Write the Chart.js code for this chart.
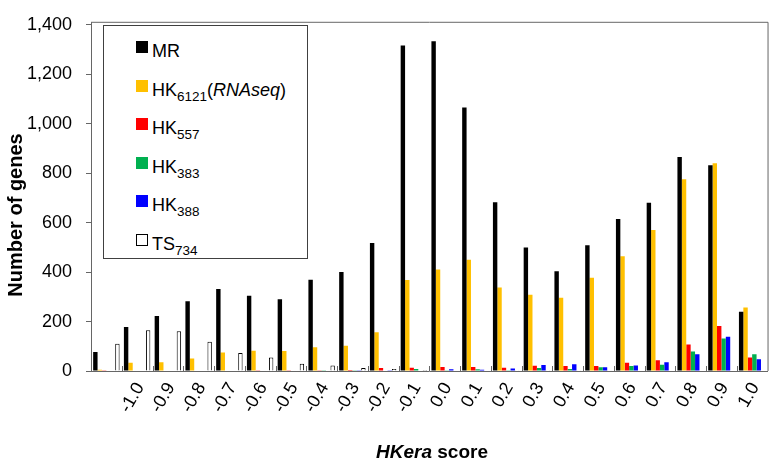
<!DOCTYPE html>
<html>
<head>
<meta charset="utf-8">
<script src="https://cdn.jsdelivr.net/npm/chart.js@4/dist/chart.umd.min.js"></script>
<style>
  body { margin: 0; background: #fff; }
  #wrap { position: relative; width: 779px; height: 464px; font-family: "Liberation Sans", Arial, sans-serif; }
  #legend { position: absolute; left: 103px; top: 25px; width: 203px; height: 232px; border: 1px solid #404040; background: #fff; }
  .item { position: absolute; left: 0; height: 20px; line-height: 20px; font-size: 18px; color: #000; white-space: nowrap; }
  .box { position: absolute; width: 12px; height: 12px; }
  .txt { position: absolute; left: 48px; }
  sub { font-size: 13.5px; vertical-align: -5px; line-height: 0; }
  #xtitle { position: absolute; left: 0; width: 864px; top: 441px; text-align: center; font-size: 19px; font-weight: bold; }
</style>
</head>
<body>
<div id="wrap">
  <canvas id="chart" width="779" height="464"></canvas>
  <div id="legend"></div>
  <div id="xtitle"><i>HKera</i> score</div>
</div>
<script>
// HKera score bins (first bin has no label in the original)
const labels = ['', '-1.0', '-0.9', '-0.8', '-0.7', '-0.6', '-0.5', '-0.4', '-0.3', '-0.2', '-0.1',
    '0.0', '0.1', '0.2', '0.3', '0.4', '0.5', '0.6', '0.7', '0.8', '0.9', '1.0'];

// Number of genes per series
const mr = [77, 178, 222, 282, 332, 304, 290, 369, 400, 518, 1316, 1333, 1066, 682, 499, 403, 509, 615, 680, 865, 832, 240];
const hk6121 = [5, 33, 35, 51, 75, 82, 81, 96, 102, 157, 368, 410, 450, 338, 308, 296, 377, 464, 570, 775, 840, 257];
const hk557 = [1, 2, 2, 2, 2, 1, 1, 3, 4, 12, 13, 16, 16, 13, 21, 20, 20, 33, 43, 107, 182, 55];
const hk383 = [0, 0, 0, 0, 0, 0, 0, 1, 1, 2, 8, 3, 7, 3, 12, 8, 15, 20, 25, 79, 131, 68];
const hk388 = [0, 0, 0, 0, 0, 0, 0, 0, 1, 1, 2, 7, 5, 10, 24, 27, 15, 22, 35, 68, 139, 48];
const ts734 = [110, 165, 161, 118, 73, 55, 29, 22, 12, 8, 4, 2, 2, 1, 1, 1, 1, 0, 0, 0, 0, 0];

const yTicks = [0, 200, 400, 600, 800, 1000, 1200, 1400];
const yTitle = 'Number of genes';

// legend entries: colour, border, html label
const legendItems = [
    ['#000000', 'none', 'MR'],
    ['#FFC000', 'none', 'HK<sub>6121</sub>(<i>RNAseq</i>)'],
    ['#FF0000', 'none', 'HK<sub>557</sub>'],
    ['#00B050', 'none', 'HK<sub>383</sub>'],
    ['#0000FF', 'none', 'HK<sub>388</sub>'],
    ['#FFFFFF', '1px solid #000', 'TS<sub>734</sub>']
];

const legend = document.getElementById('legend');
legendItems.forEach(function (it, i) {
    const top = 14 + i * 38.6;
    const row = document.createElement('div');
    row.className = 'item';
    row.style.top = (top + 1) + 'px';
    row.style.width = '200px';
    const box = document.createElement('div');
    box.className = 'box';
    box.style.left = '32px';
    box.style.top = '0px';
    box.style.background = it[0];
    box.style.border = it[1];
    box.style.boxSizing = 'border-box';
    const txt = document.createElement('span');
    txt.className = 'txt';
    txt.innerHTML = it[2];
    row.appendChild(box);
    row.appendChild(txt);
    legend.appendChild(row);
});

const fam = '"Liberation Sans", Arial, sans-serif';

// frame on top/right, inside tick marks on the category axis, y title
const framePlugin = {
    id: 'frame',
    afterDraw(chart) {
        const c = chart.ctx;
        const a = chart.chartArea;
        const xs = chart.scales.x;
        c.save();
        c.strokeStyle = '#666';
        c.lineWidth = 1;
        c.beginPath();
        c.moveTo(a.left, a.top - 2.5);
        c.lineTo(a.right + 0.5, a.top - 2.5);
        c.lineTo(a.right + 0.5, a.bottom);
        c.stroke();
        c.beginPath();
        c.moveTo(a.left + 0.5, a.top - 2.5);
        c.lineTo(a.left + 0.5, a.top);
        c.stroke();
        const n = labels.length;
        for (let i = 1; i < n; i++) {
            const x = Math.round(xs.left + i * (xs.right - xs.left) / n) + 0.5;
            c.beginPath();
            c.moveTo(x, a.bottom);
            c.lineTo(x, a.bottom - 5);
            c.stroke();
        }
        c.translate(16, 215);
        c.rotate(-Math.PI / 2);
        c.fillStyle = '#000';
        c.font = 'bold 20px ' + fam;
        c.textAlign = 'center';
        c.textBaseline = 'middle';
        c.fillText(yTitle, 0, 0);
        c.restore();
    }
};

function ds(label, data, color, border) {
    return {
        label: label,
        data: data,
        backgroundColor: color,
        borderColor: border || color,
        borderWidth: border ? 1 : 0,
        categoryPercentage: 0.86,
        barPercentage: 1.0
    };
}

new Chart(document.getElementById('chart').getContext('2d'), {
    type: 'bar',
    data: {
        labels: labels,
        datasets: [
            ds('MR', mr, '#000000'),
            ds('HK6121(RNAseq)', hk6121, '#FFC000'),
            ds('HK557', hk557, '#FF0000'),
            ds('HK383', hk383, '#00B050'),
            ds('HK388', hk388, '#0000FF'),
            ds('TS734', ts734, '#FFFFFF', '#000000')
        ]
    },
    options: {
        responsive: false,
        animation: false,
        devicePixelRatio: 1,
        layout: { padding: { top: 15, right: 6, left: 0, bottom: 0 } },
        plugins: {
            legend: { display: false },
            tooltip: { enabled: false }
        },
        scales: {
            x: {
                grid: { display: false, drawTicks: false },
                border: { color: '#666' },
                ticks: {
                    color: '#000',
                    font: { family: fam, size: 18 },
                    autoSkip: false,
                    minRotation: 60,
                    maxRotation: 60,
                    padding: 8,
                    labelOffset: 3
                },
                afterFit(s) { s.height = 93; }
            },
            y: {
                min: 0,
                max: 1400,
                afterBuildTicks(s) { s.ticks = yTicks.map(v => ({ value: v })); },
                grid: { drawOnChartArea: false, tickLength: 5, color: '#666' },
                border: { color: '#666' },
                ticks: { color: '#000', font: { family: fam, size: 18 }, padding: 14 },
                afterFit(s) { s.width = 91; }
            }
        }
    },
    plugins: [framePlugin]
});
</script>
</body>
</html>
